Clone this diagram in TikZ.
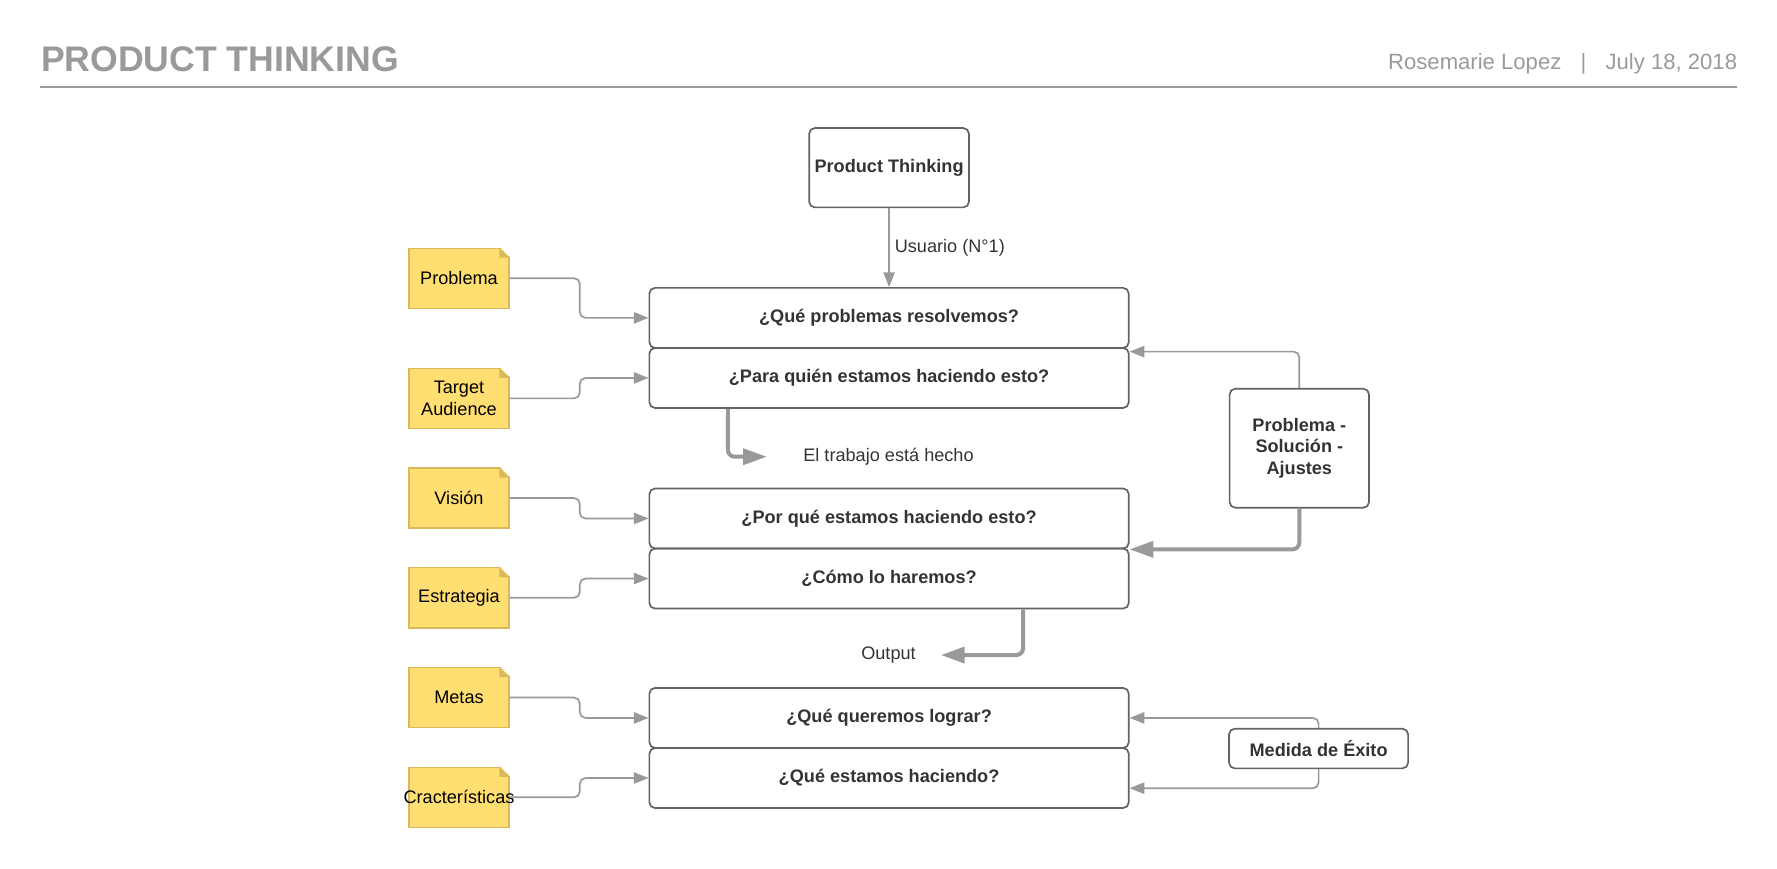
\documentclass[tikz,border=0pt]{standalone}
\usepackage{fontspec}
\setmainfont{Liberation Sans}
\usetikzlibrary{arrows.meta}
\definecolor{headgray}{HTML}{9A9A9A}
\definecolor{linkgray}{HTML}{999999}
\definecolor{boxgray}{HTML}{636363}
\definecolor{textgray}{HTML}{333333}
\definecolor{notefill}{HTML}{FFDF71}
\definecolor{noteline}{HTML}{D9B95B}
\newcommand{\fold}[1]{%
\fill[white] ([shift={(-9pt,1pt)}]#1.north east) -- ([shift={(2pt,2pt)}]#1.north east) -- ([shift={(1pt,-9pt)}]#1.north east) -- cycle;
\fill[noteline] ([xshift=-9pt]#1.north east) -- ([yshift=-9pt]#1.north east) -- ([shift={(-9pt,-9pt)}]#1.north east) -- cycle;}

\begin{document}
\begin{tikzpicture}[x=1pt,y=-1pt,
note/.style={draw=noteline,fill=notefill,line width=1.2pt,minimum width=88pt,minimum height=53pt,inner sep=1pt,align=center,font=\fontsize{16}{19}\selectfont},
qbox/.style={draw=boxgray,line width=1.5pt,rounded corners=5pt,minimum width=423pt,minimum height=53pt,text=textgray,font=\fontsize{16}{19}\selectfont\bfseries},
sidebox/.style={draw=boxgray,line width=1.5pt,rounded corners=5pt,align=center,text=textgray,font=\fontsize{16}{19}\selectfont\bfseries},
plain/.style={text=textgray,font=\fontsize{16}{19}\selectfont},
link/.style={draw=linkgray,line width=1.5pt,rounded corners=5pt,-{Triangle[length=13pt,width=10pt]}},
biglink/.style={draw=linkgray,line width=3.5pt,rounded corners=6pt,-{Triangle[length=21pt,width=14pt]}}]
\useasboundingbox (0,0) rectangle (1568,766);

\node[anchor=base west,inner sep=0,text=headgray,font=\fontsize{31.4}{36}\selectfont\bfseries] (title) at (36,63) {PRODUCT THINKING};
\node[anchor=base east,inner sep=0,text=headgray,font=\fontsize{19.5}{23}\selectfont] (author) at (1533,61) {Rosemarie Lopez\hspace{17pt}|\hspace{17pt}July 18, 2018};
\draw[headgray,line width=2pt] (35,77)--(1533,77);

\node[sidebox,minimum width=141pt,minimum height=70pt] (pt) at (784.5,148) {Product Thinking};

\node[qbox] (q1) at (784.5,280.5) {¿Qué problemas resolvemos?};
\node[qbox] (q2) at (784.5,333.5) {¿Para quién estamos haciendo esto?};
\node[qbox] (q3) at (784.5,457.5) {¿Por qué estamos haciendo esto?};
\node[qbox] (q4) at (784.5,510.5) {¿Cómo lo haremos?};
\node[qbox] (q5) at (784.5,633.5) {¿Qué queremos lograr?};
\node[qbox] (q6) at (784.5,686.5) {¿Qué estamos haciendo?};

\node[note] (problema) at (405,245.5) {Problema};
\node[note] (target) at (405,351.5) {Target\\Audience};
\node[note] (vision) at (405,439.5) {Visión};
\node[note] (estrategia) at (405,527.5) {Estrategia};
\node[note] (metas) at (405,615.5) {Metas};
\node[note] (carac) at (405,703.5) {\makebox[0pt]{Cracterísticas}};
\fold{problema}
\fold{target}
\fold{vision}
\fold{estrategia}
\fold{metas}
\fold{carac}

\node[sidebox,minimum width=123pt,minimum height=105pt] (psa) at (1146.5,395.5) {Problema -\\Solución -\\Ajustes};
\node[sidebox,minimum width=158pt,minimum height=35pt] (medida) at (1163.5,660.5) {Medida de Éxito};

\node[plain,inner xsep=32pt] (hecho) at (784,403) {El trabajo está hecho};
\node[plain,inner xsep=22pt] (output) at (784,578) {Output};

\draw[link] (pt)--(q1) node[plain,midway,right,xshift=1pt] (usuario) {Usuario (N°1)};

\draw[link] (problema.east)--++(62,0)|-(q1.west);
\draw[link] (target.east)--++(62,0)|-(q2.west);
\draw[link] (vision.east)--++(62,0)|-(q3.west);
\draw[link] (estrategia.east)--++(62,0)|-(q4.west);
\draw[link] (metas.east)--++(62,0)|-(q5.west);
\draw[link] (carac.east)--++(62,0)|-(q6.west);

\draw[biglink] ([xshift=70pt]q2.south west)|-(hecho.west);
\draw[biglink] ([xshift=-94pt]q4.south east)|-(output.east);

\draw[link] (psa.north)|-([yshift=-4pt]q2.north east);
\draw[biglink] (psa.south)|-(q3.south east);
\draw[link] (medida.north)|-(q5.east);
\draw[link] (medida.south)|-([yshift=-9pt]q6.east);
\end{tikzpicture}
\end{document}
